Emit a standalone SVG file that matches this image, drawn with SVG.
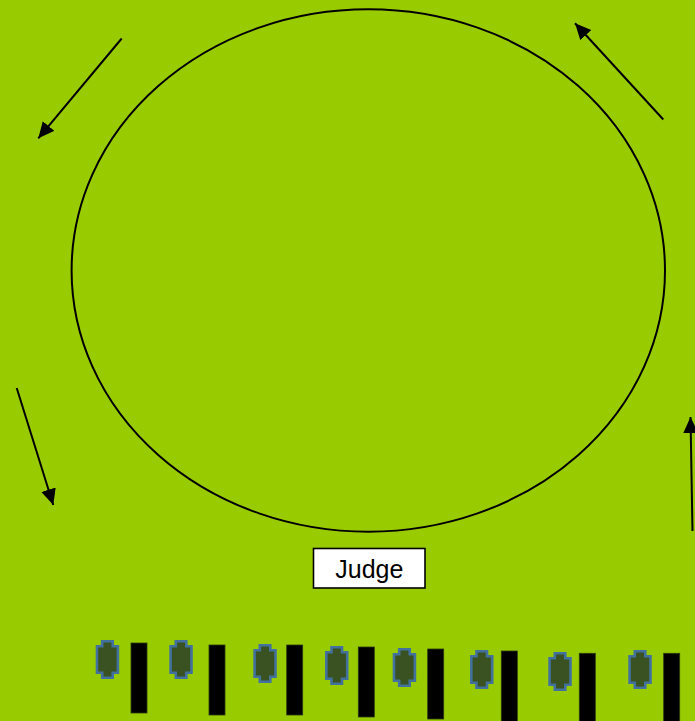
<svg xmlns="http://www.w3.org/2000/svg" xmlns:xlink="http://www.w3.org/1999/xlink" width="695" height="721" viewBox="0 0 695 721">
<style>
.conn{stroke:#000;stroke-width:2;fill:none}
.horse{fill:#3a5222;stroke:#41719c;stroke-width:2.6}
.post{fill:#000;stroke:#2b3a10;stroke-width:0.8}
.lbl{font-family:"Liberation Sans",Arial,sans-serif;font-size:25px;fill:#000;text-anchor:middle}
</style>
<defs>
<marker id="ah" markerUnits="userSpaceOnUse" markerWidth="18" markerHeight="16" refX="16" refY="7.5" orient="auto">
<path d="M0,0 L16,7.5 L0,15 Z" fill="#000"/>
</marker>
<path id="hs" d="M6.5,1.3 H17 V6.3 H22.2 V32.7 H17 V37.7 H6.5 V32.7 H1.3 V6.3 H6.5 Z"/>
</defs>
<rect width="695" height="721" fill="#99cc00"/>
<g id="ring">
<ellipse cx="368.3" cy="270.5" rx="296.7" ry="261.2" fill="none" stroke="#000" stroke-width="2"/>
</g>
<g id="connectors">
<line class="conn" x1="121.7" y1="38.5" x2="38.3" y2="138.3" marker-end="url(#ah)"/>
<line class="conn" x1="663.3" y1="119.5" x2="575" y2="23.3" marker-end="url(#ah)"/>
<line class="conn" x1="16.7" y1="388" x2="53.3" y2="505" marker-end="url(#ah)"/>
<line class="conn" x1="692.5" y1="531" x2="690.5" y2="417" marker-end="url(#ah)"/>
</g>
<g id="judge">
<rect x="313.5" y="548.5" width="111.5" height="39.5" fill="#fff" stroke="#000" stroke-width="1.6"/>
<text class="lbl" x="369.3" y="577.5">Judge</text>
</g>
<g id="horse1"><use xlink:href="#hs" class="horse" transform="translate(95.7,640)"/><rect class="post" x="131" y="643" width="16" height="70"/></g>
<g id="horse2"><use xlink:href="#hs" class="horse" transform="translate(169.3,640)"/><rect class="post" x="209" y="645" width="16" height="70"/></g>
<g id="horse3"><use xlink:href="#hs" class="horse" transform="translate(253.3,644)"/><rect class="post" x="286.7" y="645" width="16" height="70"/></g>
<g id="horse4"><use xlink:href="#hs" class="horse" transform="translate(325,646)"/><rect class="post" x="358.3" y="647" width="16" height="70"/></g>
<g id="horse5"><use xlink:href="#hs" class="horse" transform="translate(392.7,648)"/><rect class="post" x="427.7" y="649" width="16" height="70"/></g>
<g id="horse6"><use xlink:href="#hs" class="horse" transform="translate(470,650)"/><rect class="post" x="501.3" y="651" width="16" height="72"/></g>
<g id="horse7"><use xlink:href="#hs" class="horse" transform="translate(548.3,652)"/><rect class="post" x="579.3" y="653.3" width="16" height="72"/></g>
<g id="horse8"><use xlink:href="#hs" class="horse" transform="translate(628.3,650)"/><rect class="post" x="663.7" y="653.3" width="16" height="72"/></g>
</svg>
